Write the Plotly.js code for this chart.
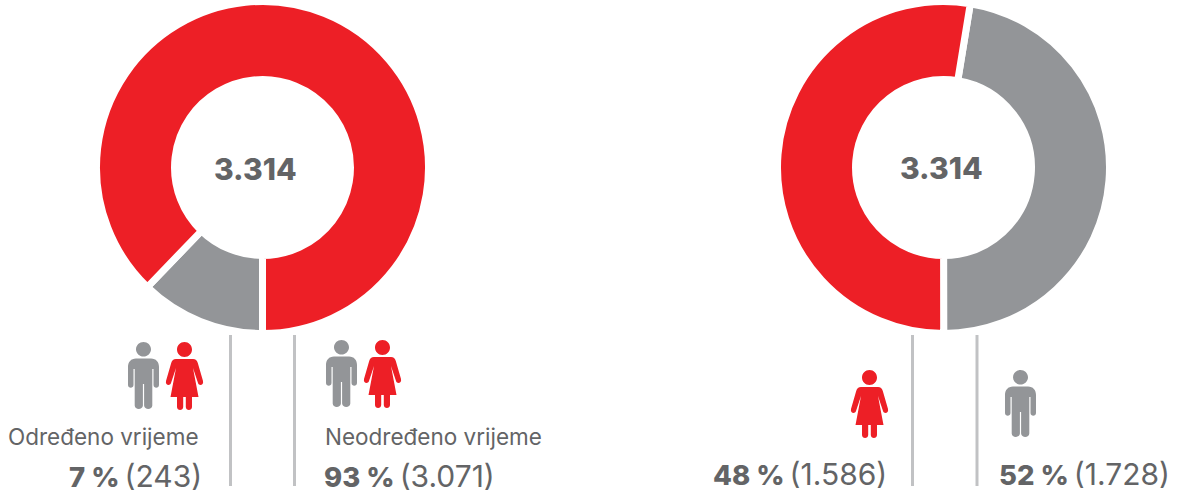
<!DOCTYPE html>
<html><head><meta charset="utf-8">
<script src="https://cdn.plot.ly/plotly-3.0.1.min.js"></script>
<style>html,body{margin:0;padding:0;background:#fff}#c{width:1177px;height:497px}</style>
</head><body><div id="c"></div>
<script>
// Arc shares as they are drawn in the picture (the printed labels are listed separately)
const contractSlices = ['Određeno vrijeme', 'Neodređeno vrijeme'];
const contractArcShare = [12.2, 87.8];
const genderSlices = ['Muškarci', 'Žene'];
const genderArcShare = [47.4, 52.6];
const totalLabel = '3.314';
const contractTitles = ['Određeno vrijeme', 'Neodređeno vrijeme'];
const contractPercents = ['7 %', '93 %'];
const contractCounts = ['(243)', '(3.071)'];
const genderPercents = ['48 %', '52 %'];
const genderCounts = ['(1.586)', '(1.728)'];

const W = 1177, H = 497;
const RED = '#ED1F26', GRAY = '#939598', TXT = '#636466', RULE = '#C1C2C4';
const FONT = 'Inter, Roboto, sans-serif';
const px = x => x / W, py = y => 1 - y / H;

function donut(cx, cy, r, labels, values, rotation) {
  return {
    type: 'pie', labels, values, rotation, sort: false, direction: 'clockwise', hole: 0.53,
    textinfo: 'none', hoverinfo: 'label+percent', showlegend: false,
    marker: {colors: [GRAY, RED], line: {color: '#fff', width: 7}},
    domain: {x: [px(cx - r), px(cx + r)], y: [py(cy + r), py(cy - r)]}
  };
}

// Icon outlines in local pixels, moved to the paper and scaled there
const manIcon = 'M15.5 0C19.6 0 23 3.2 23 7.3C23 11.4 19.6 14.6 15.5 14.6C11.4 14.6 8 11.4 8 7.3C8 3.2 11.4 0 15.5 0Z' +
  'M8 16.5H23C28 16.5 31 20 31 25V43C31 46.5 25.5 46.5 25.5 43V27H24.3V63.5C24.3 68 16.3 68 16.1 63.5V42H14.9V63.5C14.7 68 6.7 68 6.7 63.5V27H5.5V43C5.5 46.5 0 46.5 0 43V25C0 20 3 16.5 8 16.5Z';
const womanIcon = 'M18.5 0C22.7 0 26 3.3 26 7.5C26 11.7 22.7 15 18.5 15C14.3 15 11 11.7 11 7.5C11 3.3 14.3 0 18.5 0Z' +
  'M10 17H27C29.5 17 31 18.5 31.8 21L37 39C38 43 33.2 44.5 32 41L27 26L32.5 55H26V65C26 69 19.8 69 19.8 65V55H17.2V65C17.2 69 11 69 11 65V55H4.5L10 26L5 41C3.8 44.5 -1 43 0 39L5.2 21C6 18.5 7.5 17 10 17Z';

function placed(path, ox, oy, color) {
  const d = path.replace(/([MLHVCQZ])([^MLHVCQZ]*)/g, (m, cmd, args) => {
    const n = (args.match(/-?\d+(\.\d+)?/g) || []).map(Number);
    if (cmd === 'Z') return 'Z';
    if (cmd === 'H') return 'H' + n.map(v => px(v + ox)).join(' ');
    if (cmd === 'V') return 'V' + n.map(v => py(v + oy)).join(' ');
    return cmd + n.map((v, i) => i % 2 ? py(v + oy) : px(v + ox)).join(' ');
  });
  return {type: 'path', xref: 'paper', yref: 'paper', path: d, fillcolor: color, line: {width: 0}, layer: 'above'};
}
function rule(x, y0, y1) {
  return {type: 'line', xref: 'paper', yref: 'paper', x0: px(x), x1: px(x), y0: py(y0), y1: py(y1),
    line: {color: RULE, width: 3}};
}
function label(text, x, y, anchor, size) {
  return {text, x: px(x), y: py(y), xref: 'paper', yref: 'paper', xanchor: anchor, yanchor: 'middle',
    showarrow: false, borderpad: 0, font: {family: FONT, size, color: TXT}};
}
const heavy = (t, s) => '<span style="font-weight:800;font-size:' + s + 'px">' + t + '</span>';
const stat = (p, c) => heavy(p, 27.5) + '<span style="font-size:18px"> </span>' + c;

const data = [
  donut(262.5, 167.5, 166, contractSlices, contractArcShare, 180),
  donut(943.5, 167.5, 166, genderSlices, genderArcShare, 9.3)
];
const layout = {
  width: W, height: H, margin: {l: 0, r: 0, t: 0, b: 0},
  paper_bgcolor: '#fff', plot_bgcolor: '#fff', showlegend: false,
  shapes: [
    rule(230.5, 335, 486), rule(294.5, 335, 486), rule(912.5, 335, 486), rule(977, 335, 486),
    placed(manIcon, 128, 342, GRAY), placed(womanIcon, 166, 342, RED),
    placed(manIcon, 326, 340, GRAY), placed(womanIcon, 364, 340, RED),
    placed(womanIcon, 851, 370, RED), placed(manIcon, 1005, 370, GRAY)
  ],
  annotations: [
    label(heavy(totalLabel, 30), 255.5, 169, 'center', 30),
    label(heavy(totalLabel, 30), 941.5, 168, 'center', 30),
    label(contractTitles[0], 7, 436, 'left', 22.5),
    label(contractTitles[1], 323.5, 436, 'left', 22.5),
    label(stat(contractPercents[0], contractCounts[0]), 203, 476, 'right', 30),
    label(stat(contractPercents[1], contractCounts[1]), 323, 476, 'left', 30),
    label(stat(genderPercents[0], genderCounts[0]), 888, 474, 'right', 30),
    label(stat(genderPercents[1], genderCounts[1]), 998, 474, 'left', 30)
  ]
};
Plotly.newPlot('c', data, layout, {displayModeBar: false, staticPlot: true});
</script></body></html>
